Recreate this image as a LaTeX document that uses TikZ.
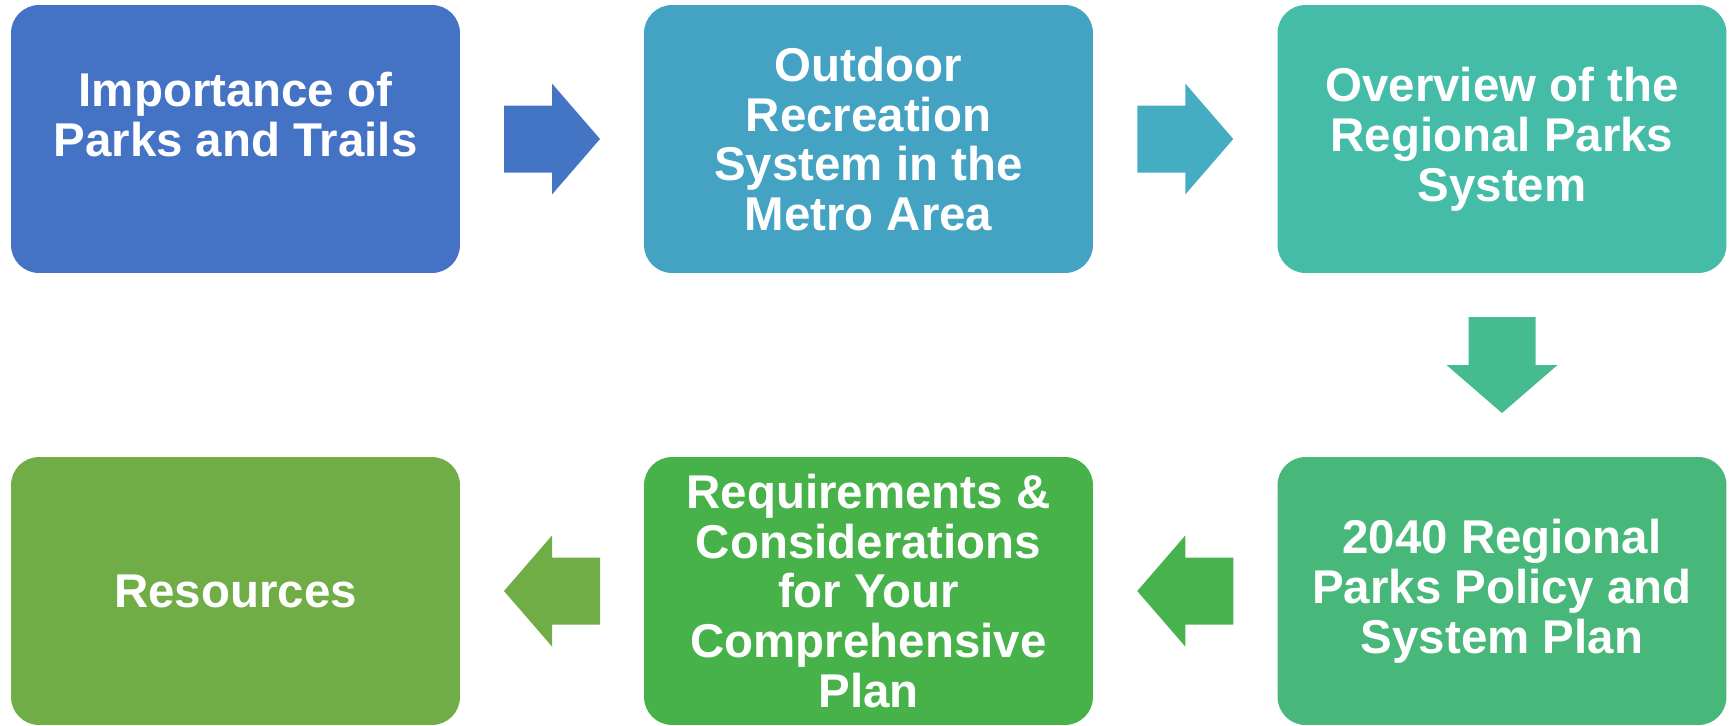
\documentclass[tikz,border=0pt]{standalone}
\usepackage{fontspec}
\setmainfont{Liberation Sans}
\usetikzlibrary{positioning,calc}

\definecolor{boxA}{HTML}{4472C4}
\definecolor{boxB}{HTML}{44A3C2}
\definecolor{boxC}{HTML}{45BCA8}
\definecolor{boxD}{HTML}{47B87A}
\definecolor{boxE}{HTML}{48B24A}
\definecolor{boxF}{HTML}{70AD47}
\definecolor{arrowA}{HTML}{4475C4}
\definecolor{arrowB}{HTML}{44ADC2}
\definecolor{arrowC}{HTML}{45BB90}
\definecolor{arrowD}{HTML}{48B34E}
\definecolor{arrowE}{HTML}{70AD47}

\tikzset{
	stepbox/.style={rectangle,rounded corners=0.56cm,inner sep=0pt,
		minimum width=8.98cm,minimum height=5.36cm,text=white,align=center,
		font=\bfseries\fontsize{27}{28.4}\selectfont},
	blockarrow/.pic={
		\fill[#1] (-48,-33.5) -- (0,-33.5) -- (0,-55.5) -- (48,0)
			-- (0,55.5) -- (0,33.5) -- (-48,33.5) -- cycle;}
}

\begin{document}
\begin{tikzpicture}
	[x=0.02cm,y=-0.02cm]
	\useasboundingbox (0,0) rectangle (1733,725);
	\node[stepbox,fill=boxA] (b1) at (235.5,139) {Importance of\\Parks and Trails\\\mbox{}};
	\node[stepbox,fill=boxB] (b2) at (868.5,139) {Outdoor\\Recreation\\System in the\\Metro Area};
	\node[stepbox,fill=boxC] (b3) at (1502,139)  {Overview of the\\Regional Parks\\System};
	\node[stepbox,fill=boxD] (b4) at (1502,591)  {2040 Regional\\Parks Policy and\\System Plan};
	\node[stepbox,fill=boxE] (b5) at (868.5,591) {Requirements \&\\Considerations\\for Your\\Comprehensive\\Plan};
	\node[stepbox,fill=boxF] (b6) at (235.5,591) {Resources};

	\foreach \from/\to/\ang/\col in {b1/b2/0/arrowA,b2/b3/0/arrowB,b3/b4/-90/arrowC,b4/b5/180/arrowD,b5/b6/180/arrowE}
	\pic[rotate=\ang] at ($(\from)!0.5!(\to)$) {blockarrow=\col};

\end{tikzpicture}
\end{document}
